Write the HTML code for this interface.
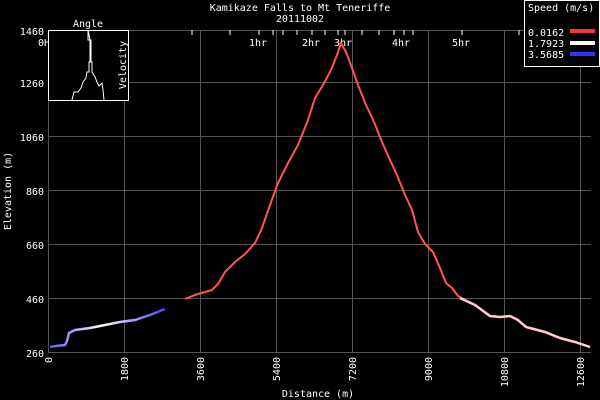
<!DOCTYPE html>
<html><head><style>body{margin:0;background:#000}svg{display:block}text{font-family:"DejaVu Sans Mono","Liberation Mono",monospace;fill:#fff;font-size:10px}</style></head><body>
<svg width="600" height="400" viewBox="0 0 600 400">
<rect width="600" height="400" fill="#000"/>
<g stroke="#555" stroke-width="1">
<line x1="124.5" y1="30" x2="124.5" y2="352"/><line x1="200.5" y1="30" x2="200.5" y2="352"/><line x1="276.5" y1="30" x2="276.5" y2="352"/><line x1="352.5" y1="30" x2="352.5" y2="352"/><line x1="428.5" y1="30" x2="428.5" y2="352"/><line x1="504.5" y1="30" x2="504.5" y2="352"/><line x1="580.5" y1="30" x2="580.5" y2="352"/>
<line x1="48" y1="298.5" x2="591" y2="298.5"/><line x1="48" y1="244.5" x2="591" y2="244.5"/><line x1="48" y1="190.5" x2="591" y2="190.5"/><line x1="48" y1="136.5" x2="591" y2="136.5"/><line x1="48" y1="82.5" x2="591" y2="82.5"/>
<line x1="48.5" y1="30" x2="48.5" y2="352"/><line x1="48" y1="352.5" x2="591" y2="352.5"/><line x1="48" y1="30.5" x2="591" y2="30.5"/>
</g>
<g stroke="#fff" stroke-width="1">
<line x1="192" y1="30" x2="192" y2="35"/><line x1="230" y1="30" x2="230" y2="35"/><line x1="259" y1="30" x2="259" y2="35"/><line x1="273" y1="30" x2="273" y2="35"/><line x1="283" y1="30" x2="283" y2="35"/><line x1="297" y1="30" x2="297" y2="35"/><line x1="312" y1="30" x2="312" y2="35"/><line x1="325" y1="30" x2="325" y2="35"/><line x1="338" y1="30" x2="338" y2="35"/><line x1="345" y1="30" x2="345" y2="35"/><line x1="362" y1="30" x2="362" y2="35"/><line x1="379" y1="30" x2="379" y2="35"/><line x1="394" y1="30" x2="394" y2="35"/><line x1="404" y1="30" x2="404" y2="35"/><line x1="413" y1="30" x2="413" y2="35"/><line x1="462" y1="30" x2="462" y2="35"/><line x1="519" y1="30" x2="519" y2="35"/>
</g>
<text x="300" y="11" text-anchor="middle">Kamikaze Falls to Mt Teneriffe</text>
<text x="300" y="22" text-anchor="middle">20111002</text>
<text x="258" y="46" text-anchor="middle">1hr</text><text x="311" y="46" text-anchor="middle">2hr</text><text x="343" y="46" text-anchor="middle">3hr</text><text x="401" y="46" text-anchor="middle">4hr</text><text x="461" y="46" text-anchor="middle">5hr</text>
<text x="38" y="46">0H</text>
<g text-anchor="end"><text x="44" y="35">1460</text><text x="44" y="87">1260</text><text x="44" y="141">1060</text><text x="44" y="195">860</text><text x="44" y="249">660</text><text x="44" y="303">460</text><text x="44" y="357">260</text></g>
<g text-anchor="end">
<text transform="translate(52,357) rotate(-90)">0</text><text transform="translate(128,357) rotate(-90)">1800</text><text transform="translate(204,357) rotate(-90)">3600</text><text transform="translate(280,357) rotate(-90)">5400</text><text transform="translate(356,357) rotate(-90)">7200</text><text transform="translate(432,357) rotate(-90)">9000</text><text transform="translate(508,357) rotate(-90)">10800</text><text transform="translate(584,357) rotate(-90)">12600</text>
</g>
<text x="318" y="397" text-anchor="middle">Distance (m)</text>
<text transform="translate(11,191) rotate(-90)" text-anchor="middle">Elevation (m)</text>
<defs><linearGradient id="bw" x1="48" x2="165" gradientUnits="userSpaceOnUse"><stop offset="0" stop-color="#55f"/><stop offset="0.15" stop-color="#88f"/><stop offset="0.45" stop-color="#fff"/><stop offset="0.7" stop-color="#aaf"/><stop offset="1" stop-color="#44f"/></linearGradient></defs>
<polyline fill="none" stroke="url(#bw)" stroke-width="2.5" points="50,347 56,346 65,345 67,341 69,333 75,330 90,328 105,325 120,322 135,320 150,315 165,309"/>
<polyline fill="none" stroke="#f55" stroke-width="2" points="185,299 195,295 205,292 212,290 218,284 225,272 235,262 245,254 255,243 262,228 270,205 278,183 288,163 298,145 308,120 315,98 323,85 331,70 337,55 341,43 346,52 352,68 358,85 366,105 374,122 382,142 390,160 397,175 405,195 412,210 418,232 425,244 433,252 440,268 446,283 452,288 458,296 465,300 475,305 490,316 500,317 510,316 518,320 526,327 545,332 560,338 575,342 590,347"/>
<polyline fill="none" stroke="#fcc" stroke-width="2.5" points="460,298 475,305 490,316 500,317 510,316 518,320 526,327 545,332 560,338 575,342 590,347"/>
<rect x="48.5" y="30.5" width="80" height="70" fill="#000" stroke="#fff"/>
<text x="88" y="27" text-anchor="middle">Angle</text>
<text transform="translate(126,65) rotate(-90)" text-anchor="middle">Velocity</text>
<polyline fill="none" stroke="#fff" stroke-width="1" points="72,100 74,92 78,92 81,88 83,82 86,78 87,72 89,72 89,62 90,62 90,40 88,40 88,30 90,40 91,40 91,62 92,62 92,72 95,77 97,82 99,86 102,83 103,90 104,100"/>
<rect x="524.5" y="0.5" width="75" height="66" fill="#000" stroke="#fff"/>
<text x="528" y="11">Speed (m/s)</text>
<text x="528" y="36">0.0162</text><text x="528" y="47">1.7923</text><text x="528" y="58">3.5685</text>
<rect x="570" y="29" width="25" height="4" fill="#f33"/><rect x="570" y="41" width="25" height="4" fill="#fff"/><rect x="570" y="52" width="25" height="4" fill="#33f"/>
</svg>
</body></html>
